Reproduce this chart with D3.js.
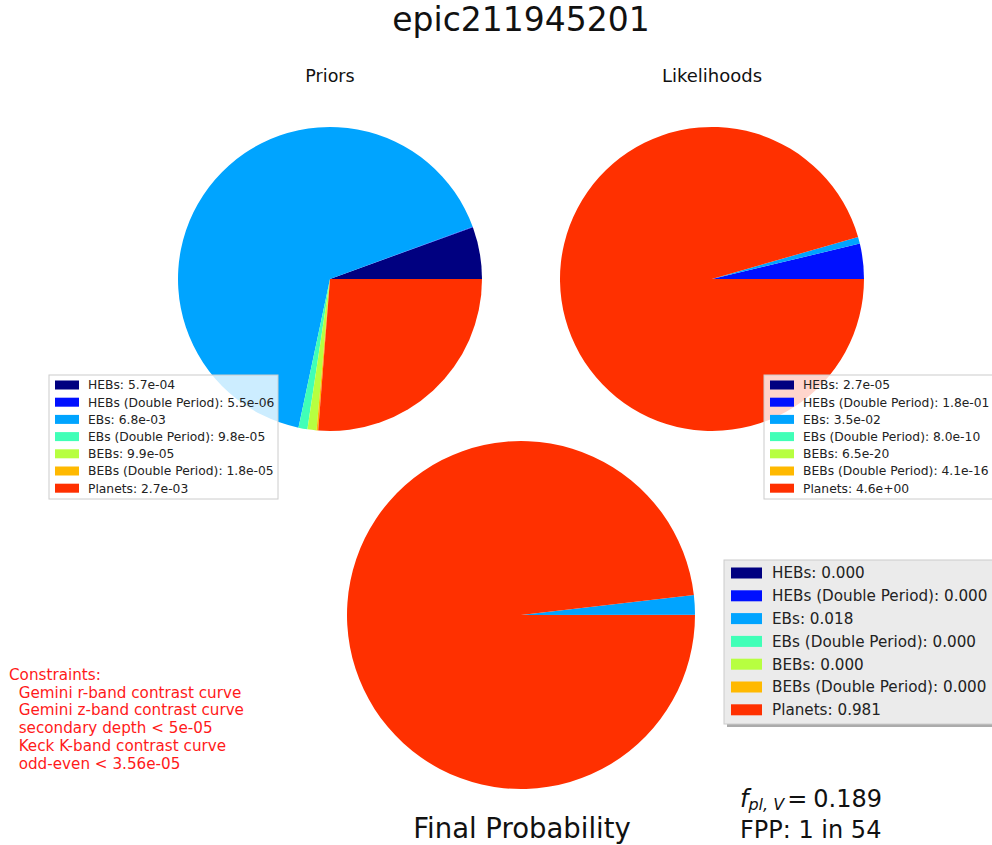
<!DOCTYPE html>
<html><head><meta charset="utf-8">
<script src="https://cdn.jsdelivr.net/npm/d3@7"></script>
<style>body{margin:0;background:#fff}svg{display:block;font-family:"DejaVu Sans",sans-serif}</style>
</head><body>
<svg id="c" width="992" height="845"></svg>
<script>
const categories = ["HEBs","HEBs (Double Period)","EBs","EBs (Double Period)","BEBs","BEBs (Double Period)","Planets"];
const colors = ["#000080","#0010ff","#00a4ff","#40ffb7","#b7ff40","#ffb900","#ff3000"];
const priorValues = [5.7e-4,5.5e-6,6.8e-3,9.8e-5,9.9e-5,1.8e-5,2.7e-3];
const priorLabels = ["5.7e-04","5.5e-06","6.8e-03","9.8e-05","9.9e-05","1.8e-05","2.7e-03"];
const likeValues = [2.7e-5,1.8e-1,3.5e-2,8.0e-10,6.5e-20,4.1e-16,4.6];
const likeLabels = ["2.7e-05","1.8e-01","3.5e-02","8.0e-10","6.5e-20","4.1e-16","4.6e+00"];
const finalValues = [0.0002,0.0001,0.018,0.0000,0.0000,0.0000,0.981];
const finalLabels = ["0.000","0.000","0.018","0.000","0.000","0.000","0.981"];
const constraints = ["Constraints:","  Gemini r-band contrast curve","  Gemini z-band contrast curve","  secondary depth < 5e-05","  Keck K-band contrast curve","  odd-even < 3.56e-05"];

const svg = d3.select("#c");
const color = d3.scaleOrdinal().domain(categories).range(colors);

function drawPie(vals, cx, cy, r){
  const pie = d3.pie().sort(null).value(d=>d.v)
    .startAngle(Math.PI/2).endAngle(Math.PI/2 - 2*Math.PI);
  const data = categories.map((c,i)=>({c, v: vals[i]}));
  const arc = d3.arc().innerRadius(0).outerRadius(r);
  svg.append("g").attr("transform",`translate(${cx},${cy})`)
    .selectAll("path").data(pie(data)).join("path")
    .attr("d",arc).attr("fill",d=>color(d.data.c));
}
function drawLegend(labels, x, y, w, h, opts){
  const g = svg.append("g").attr("transform",`translate(${x},${y})`);
  if(opts.shadow) g.append("rect").attr("x",3).attr("y",3).attr("width",w).attr("height",h).attr("fill","#888").attr("opacity",0.7);
  g.append("rect").attr("width",w).attr("height",h).attr("fill",opts.bg).attr("fill-opacity",opts.alpha)
    .attr("stroke",opts.stroke).attr("stroke-width",1);
  categories.forEach((c,i)=>{
    const yy = opts.top + i*opts.step;
    g.append("rect").attr("x",opts.sx).attr("y",yy-opts.sh/2).attr("width",opts.sw).attr("height",opts.sh).attr("fill",color(c));
    g.append("text").attr("x",opts.tx).attr("y",yy).attr("dy","0.36em").attr("font-size",opts.fs).attr("fill","#222")
      .text(c+": "+labels[i]);
  });
}

svg.append("text").attr("x",521).attr("y",31).attr("text-anchor","middle").attr("font-size",33).attr("fill","#111").text("epic211945201");
svg.append("text").attr("x",330).attr("y",82).attr("text-anchor","middle").attr("font-size",17.5).attr("fill","#111").text("Priors");
svg.append("text").attr("x",712).attr("y",82).attr("text-anchor","middle").attr("font-size",18).attr("fill","#111").text("Likelihoods");

drawPie(priorValues,330,279,152);
drawPie(likeValues,712,279,152);
drawPie(finalValues,521,615,174);

const small = {bg:"#fff",alpha:0.8,stroke:"#ccc",top:10,step:17.2,sx:6,sw:24,sh:9,tx:39,fs:12.3};
drawLegend(priorLabels,49,375,229,124,small);
drawLegend(likeLabels,764,375,232,124,small);
drawLegend(finalLabels,724,560,272,164,{bg:"#ebebeb",alpha:1,stroke:"#ccc",shadow:true,top:13,step:22.8,sx:7,sw:31,sh:11,tx:48,fs:15.2});

svg.append("text").attr("x",522).attr("y",838).attr("text-anchor","middle").attr("font-size",27.5).attr("fill","#111").text("Final Probability");

const ct = svg.append("text").attr("x",9).attr("y",680).attr("font-size",15.2).attr("fill","#ff1a1a").attr("xml:space","preserve");
constraints.forEach((s,i)=>ct.append("tspan").attr("x",9).attr("y",680+i*17.7).text(s));

const f = svg.append("text").attr("x",740).attr("y",807).attr("font-size",24).attr("fill","#111");
f.append("tspan").attr("font-style","italic").text("f");
f.append("tspan").attr("font-style","italic").attr("font-size",16).attr("dy",3).text("pl, V");
f.append("tspan").attr("dy",-3).attr("dx",3).text("=");
f.append("tspan").attr("dx",6).text("0.189");
svg.append("text").attr("x",740).attr("y",838).attr("font-size",24).attr("fill","#111").text("FPP: 1 in 54");
</script>
</body></html>
